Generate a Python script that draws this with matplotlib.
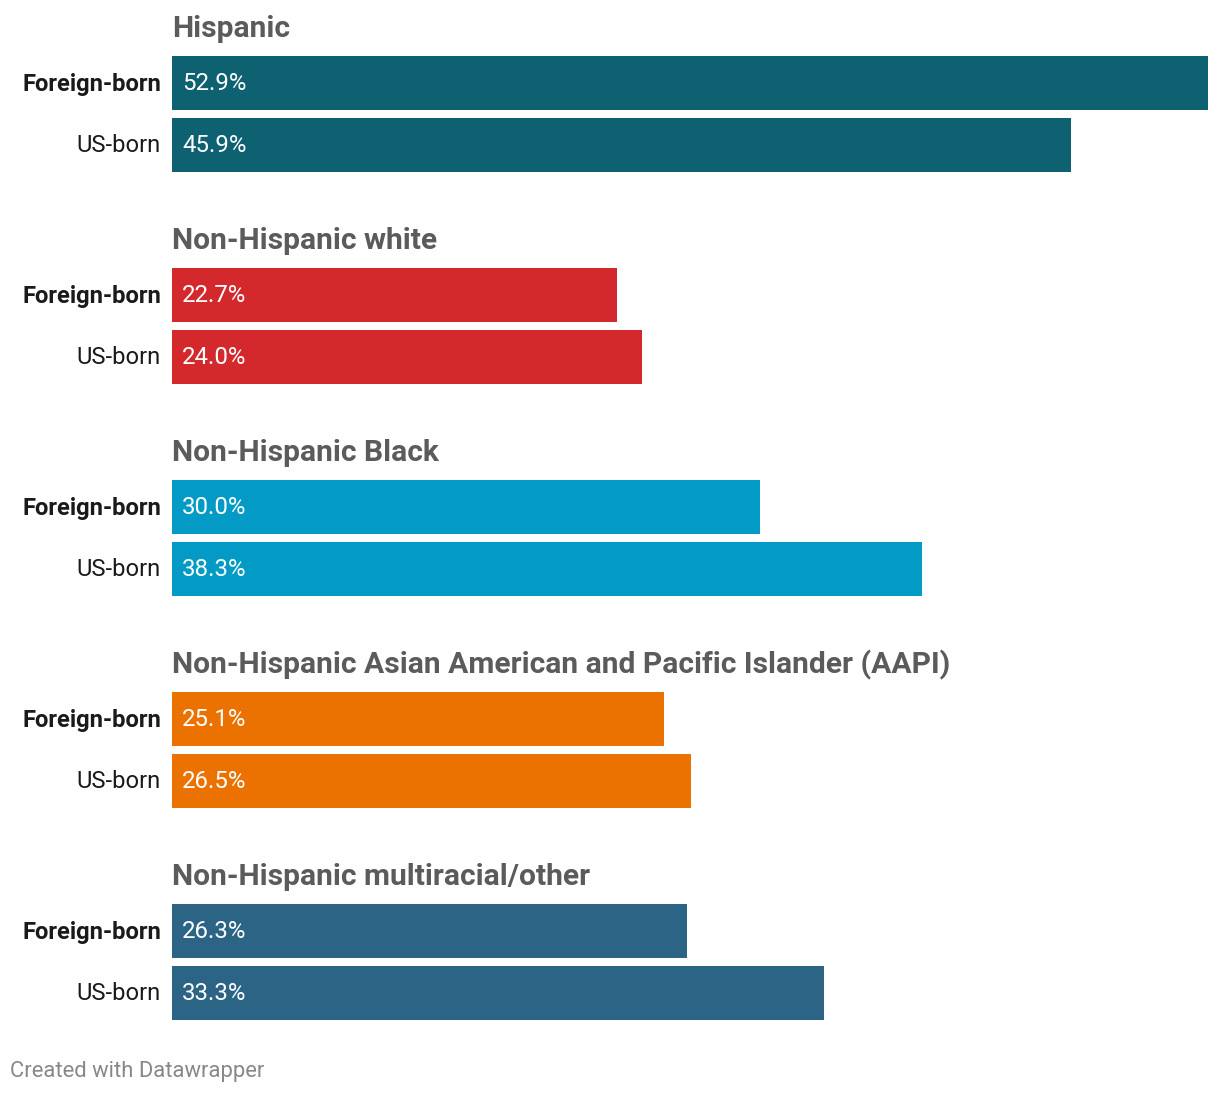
import matplotlib.pyplot as plt

plt.rcParams['font.family'] = ['Roboto', 'DejaVu Sans']

groups = ["Hispanic", "Non-Hispanic white", "Non-Hispanic Black",
          "Non-Hispanic Asian American and Pacific Islander (AAPI)",
          "Non-Hispanic multiracial/other"]
row_labels = ["Foreign-born", "US-born"]
foreign_born = [52.9, 22.7, 30.0, 25.1, 26.3]
us_born = [45.9, 24.0, 38.3, 26.5, 33.3]
colors = ["#0e6170", "#d3292d", "#039bc6", "#eb7200", "#2c6486"]

W, H = 1220, 1096
fig = plt.figure(figsize=(W / 100, H / 100), dpi=100)
# axes spans from x=172px to 1208px, full height; y in pixel-like units
ax = fig.add_axes([172 / W, 0, (1208 - 172) / W, 1])
ax.set_xlim(0, max(foreign_born))
ax.set_ylim(H, 0)
ax.axis('off')

px = max(foreign_born) / (1208 - 172)  # data units per pixel

group_step = 212
for g, name in enumerate(groups):
    top = 29 + g * group_step
    ax.text(0, top, name, fontsize=21.6, fontweight='bold', color='#5b5b5b',
            ha='left', va='center')
    for r, (lab, val) in enumerate(zip(row_labels, [foreign_born[g], us_born[g]])):
        yc = top + 54 + r * 62
        ax.barh(yc, val, height=54, color=colors[g], left=0)
        ax.text(10 * px, yc + 1, f"{val:.1f}%", fontsize=17.3, color='white',
                ha='left', va='center')
        ax.text(-11 * px, yc + 1, lab, fontsize=17.1, color='#1a1a1a',
                fontweight='bold' if r == 0 else 'normal',
                ha='right', va='center', clip_on=False)

fig.text(10 / W, 1 - 1072 / H, "Created with Datawrapper", fontsize=15.8,
         color='#888888', ha='left', va='center')

fig.savefig("out.png", dpi=100, facecolor='white')
